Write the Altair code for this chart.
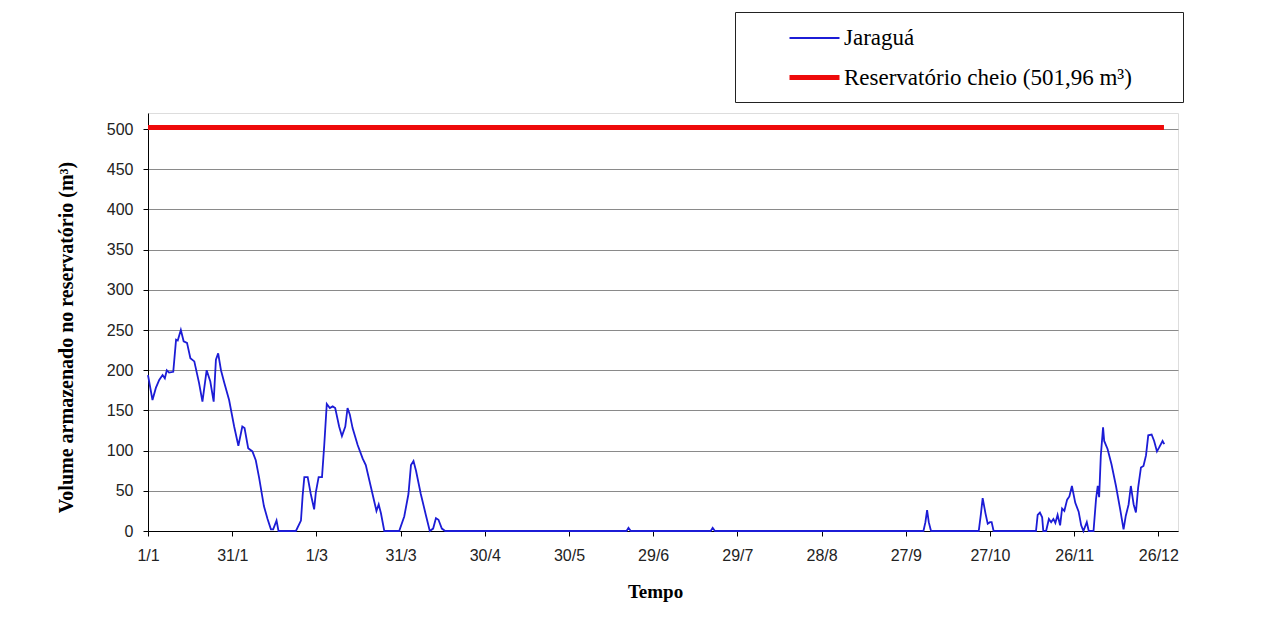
import altair as alt
import pandas as pd

# ---- data ----
tick_days = [0, 30, 60, 90, 120, 150, 180, 210, 240, 270, 300, 330, 360]
tick_labels = ["1/1", "31/1", "1/3", "31/3", "30/4", "30/5", "29/6", "29/7",
               "28/8", "27/9", "27/10", "26/11", "26/12"]
y_ticks = [0, 50, 100, 150, 200, 250, 300, 350, 400, 450, 500]

series = ["Jaraguá", "Reservatório cheio (501,96 m³)"]
colors = ["#1c1cd6", "#ee0a0a"]
widths = [1.8, 5]

jaragua_day = [0, 1.6, 2.8, 4, 5.2, 6, 6.7, 7.5, 9, 10, 10.6, 11.7, 12.7, 13.9, 15.1, 16.5,
               18.2, 19.4, 20.9, 22.2, 23.4, 24.2, 25, 26, 27.2, 28.9, 30.7, 32.2, 33.6,
               34.4, 35.7, 37.2, 38.4, 39.6, 41.3, 42.6, 43.8, 44.6, 45.8, 46.5, 52.7, 54.5,
               55.1, 55.7, 56.9, 58, 59.2, 59.8, 60.8, 62, 62.8, 63.7, 64.8, 65.8, 66.7,
               68.1, 69.1, 70.3, 71.1, 71.9, 72.9, 74.7, 76.5, 77.6, 79.4, 80.6, 81.4, 82.2,
               83, 84.2, 89.5, 91.3, 92.8, 93.7, 94.6, 95.5, 97.2, 99, 100.4, 101.6, 102.6,
               103.5, 104.7, 105.9, 170.5, 171.2, 172, 200.5, 201.2, 202, 276.3, 277, 277.6,
               278.2, 279, 296, 296.8, 297.4, 298.4, 299.2, 300, 300.6, 301.3, 316.4, 317,
               317.8, 318.6, 319, 320, 321, 321.8, 322.6, 323.3, 324.1, 325, 325.7, 326.5,
               327.5, 328.3, 329.2, 330.4, 331.6, 332.5, 333.3, 334.5, 335.2, 336.9, 337.8,
               338.4, 338.9, 339.5, 340.3, 340.7, 341.9, 343.3, 344.9, 346.4, 347.6, 348.4,
               349.4, 350.2, 351.2, 352, 352.8, 353.8, 354.7, 355.6, 356.4, 357.6, 358.5,
               359.5, 360.3, 361.5, 362.1]
jaragua_vol = [194, 163, 178, 188, 194, 190, 200, 197, 198, 238, 237, 250, 236, 234, 215, 211,
               184, 161, 200, 186, 161, 213, 221, 200, 184, 163, 130, 106, 130,
               128, 103, 99, 88, 66, 31, 15, 2, 2, 13, 0, 0, 13,
               44, 67, 67, 46, 27, 48, 67, 67, 107, 158, 153, 155, 153,
               130, 118, 130, 153, 145, 128, 107, 90, 82, 55, 37, 25, 33,
               22, 0, 0, 18, 46, 82, 87, 75, 46, 20, 0, 3, 16,
               14, 3, 0, 0, 4, 0, 0, 4, 0, 0, 11, 26,
               11, 0, 0, 22, 41, 22, 9, 11, 11, 0, 0, 20,
               23, 17, 0, 0, 15, 11, 15, 10, 20, 7, 28, 25,
               39, 43, 56, 35, 24, 7, 0, 11, 0, 0, 40,
               56, 42, 94, 129, 112, 102, 83, 56, 27, 2, 19,
               33, 56, 33, 23, 54, 79, 81, 94, 119, 120, 112,
               99, 104, 112, 108]

cheio_day = [0, 362]
cheio_vol = [501.96, 501.96]

df = pd.concat([
    pd.DataFrame({"dia": cheio_day, "volume": cheio_vol, "serie": series[1]}),
    pd.DataFrame({"dia": jaragua_day, "volume": jaragua_vol, "serie": series[0]}),
], ignore_index=True)

label_expr = ("[" + ",".join(f"'{l}'" for l in tick_labels) + "][indexof(["
              + ",".join(str(d) for d in tick_days) + "], datum.value)]")

legend = alt.Legend(
    title="\u00a0",
    titleOrient="right",
    titlePadding=51,
    titleFontSize=52,
    titleBaseline="top",
    orient="none",
    legendX=587,
    legendY=-101,
    direction="vertical",
    symbolType="stroke",
    symbolSize=2500,
    symbolOffset=52,
    labelFont="Liberation Serif",
    labelFontSize=23,
    labelColor="#000000",
    labelOffset=2,
    labelLimit=600,
    rowPadding=-16,
    padding=0,
    strokeColor="#222222",
    fillColor="#ffffff",
)

color = alt.Color("serie:N", scale=alt.Scale(domain=series, range=colors), legend=legend)
stroke_w = alt.StrokeWidth("serie:N", scale=alt.Scale(domain=series, range=widths), legend=legend)

x = alt.X(
    "dia:Q",
    scale=alt.Scale(domain=[0, 367], nice=False, zero=False),
    axis=alt.Axis(
        values=tick_days,
        labelExpr=label_expr,
        labelFlush=False,
        title="Tempo",
        grid=False,
        tickSize=5,
        labelPadding=11,
        labelFont="Liberation Sans",
        labelFontSize=16,
        labelColor="#222222",
        titleFont="Liberation Serif",
        titleFontWeight="bold",
        titleFontSize=19,
        titleColor="#000000",
        titlePadding=19,
        titleX=507,
        domainColor="#000000",
        tickColor="#000000",
    ),
)

y = alt.Y(
    "volume:Q",
    scale=alt.Scale(domain=[0, 520], nice=False),
    axis=alt.Axis(
        values=y_ticks,
        title="Volume armazenado no reservatório (m³)",
        grid=True,
        gridColor="#8a8a8a",
        gridWidth=1,
        tickSize=5,
        labelPadding=10,
        labelFont="Liberation Sans",
        labelFontSize=16,
        labelColor="#222222",
        titleFont="Liberation Serif",
        titleFontWeight="bold",
        titleFontSize=20,
        titleColor="#000000",
        titleX=-82,
        titleY=224,
        titleAlign="center",
        titleBaseline="middle",
        domainColor="#000000",
        tickColor="#000000",
    ),
)

chart = alt.Chart(df).mark_line().encode(
    x=x, y=y, color=color, strokeWidth=stroke_w, detail="serie:N"
).properties(
    width=1030,
    height=418,
    autosize=alt.AutoSizeParams(type="none"),
    padding={"left": 140, "top": 105, "right": 76, "bottom": 80},
).configure_view(stroke="#808080", strokeWidth=1).configure(background="#ffffff")

chart.save("out.html", embed_options={"renderer": "svg", "actions": False})
